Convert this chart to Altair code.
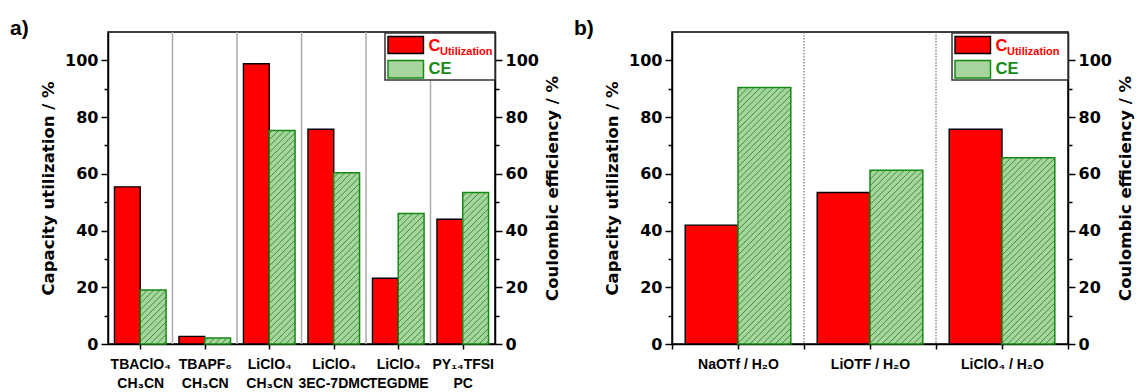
import json
import numpy as np
import pandas as pd
import altair as alt

FONT = "Liberation Sans"
AXFONT = "DejaVu Sans"
RED = "#ff0000"
GREEN = "#148a14"
G_FILL = "#a6d69e"
HATCH = "#1d7d1d"

# ---- data: panel a ----
labels_a_top = ["TBAClO₄", "TBAPF₆", "LiClO₄", "LiClO₄", "LiClO₄", "PY₁₄TFSI"]
labels_a_bottom = ["CH₃CN", "CH₃CN", "CH₃CN", "3EC-7DMC", "TEGDME", "PC"]
cutil_a = [55.4, 2.7, 98.8, 75.7, 23.2, 44.0]
ce_a = [19.0, 2.1, 75.3, 60.4, 46.0, 53.4]

# ---- data: panel b ----
labels_b = ["NaOTf / H₂O", "LiOTF / H₂O", "LiClO₄ / H₂O"]
cutil_b = [41.9, 53.4, 75.7]
ce_b = [90.4, 61.3, 65.7]

y_ticks = [0, 10, 20, 30, 40, 50, 60, 70, 80, 90, 100]

Y_MAX = 110
H = 312
PXY = H / Y_MAX
BAR = 0.40
SP = 6.3
W_A = 387
W_B = 396


def hatch_rect(x0_px, yb_px, w_px, h_px, px_x):
    rows = []
    k = -w_px + SP / 2
    while k < h_px:
        xa = max(0.0, -k)
        xb = min(w_px, h_px - k)
        if xb - xa > 0.3:
            rows.append(dict(hx=(x0_px + xa) / px_x, hx2=(x0_px + xb) / px_x,
                             hy=(yb_px + xa + k) / PXY, hy2=(yb_px + xb + k) / PXY))
        k += SP
    return rows


def panel(tag, label_expr, cutil, ce, W, legend_w, xvals, sep_kw):
    n = len(cutil)
    px_x = W / n
    centers = [i + 0.5 for i in range(n)]
    bars = pd.DataFrame({
        "c": centers,
        "r0": [c - BAR for c in centers],
        "g1": [c + BAR for c in centers],
        "cutil": cutil,
        "ce": ce,
    })
    hrows = []
    for c, v in zip(centers, ce):
        hrows += hatch_rect(c * px_x, 0.0, BAR * px_x, v * PXY, px_x)

    L = W - legend_w
    sw_x0, sw_x1, sw_top, sw_bot = L + 3, L + 38.5, 28.5, 46.0
    hrows_leg = hatch_rect(sw_x0, H - sw_bot, sw_x1 - sw_x0, sw_bot - sw_top, px_x)

    xs = alt.Scale(domain=[0, n], nice=False, zero=False)
    ys = alt.Scale(domain=[0, Y_MAX], nice=False, zero=False)
    xaxis = alt.Axis(values=xvals, labelExpr=label_expr, title=None, grid=False,
                     tickSize=5, tickWidth=1.5, tickColor="black",
                     domainColor="black", domainWidth=1.5,
                     labelFont=FONT, labelFontSize=14, labelFontWeight="bold",
                     labelColor="black", labelAngle=0, labelPadding=8,
                     labelLineHeight=19, labelBaseline="top", labelOverlap=False,
                     labelBound=False)
    tick_cond = {"condition": {"test": "datum.value % 20 === 0", "value": 7}, "value": 4}
    lab_expr = "datum.value % 20 === 0 ? datum.label : ''"
    common_y = dict(values=y_ticks, labelExpr=lab_expr, tickSize=tick_cond, grid=False,
                    tickWidth=1.5, tickColor="black", domainColor="black", domainWidth=1.5,
                    labelFont=AXFONT, labelFontSize=16, labelFontWeight="bold", labelColor="black",
                    labelPadding=3, titleFont=AXFONT, titleFontSize=16.5, titleFontWeight="bold",
                    titleColor="black")
    left_axis = alt.Axis(orient="left", title="Capacity utilization / %", titlePadding=8, **common_y)
    right_axis = alt.Axis(orient="right", title="Coulombic efficiency / %", titleAngle=270,
                          titlePadding=22, **common_y)

    def X(f):
        return alt.X(f, type="quantitative", scale=xs, axis=xaxis)

    def Yn(f):
        return alt.Y(f, type="quantitative", scale=ys, axis=None)

    seps = pd.DataFrame({"s": list(range(1, n))})
    sep = alt.Chart(seps).mark_rule(**sep_kw).encode(
        x=X("s"), y=alt.value(0), y2=alt.value(H))
    red = alt.Chart(bars).mark_rect(fill=RED, stroke="black", strokeWidth=1.4).encode(
        x=X("r0"), x2="c", y=alt.Y("cutil:Q", scale=ys, axis=left_axis), y2=alt.datum(0))
    gfill = alt.Chart(bars).mark_rect(fill=G_FILL).encode(
        x=X("c"), x2="g1", y=Yn("ce"), y2=alt.datum(0))
    hatch = alt.Chart(pd.DataFrame(hrows + hrows_leg)).mark_rule(color=HATCH, strokeWidth=0.8).encode(
        x=X("hx"), x2="hx2", y=Yn("hy"), y2="hy2")
    gout = alt.Chart(bars).mark_rect(fillOpacity=0, stroke=GREEN, strokeWidth=1.5).encode(
        x=X("c"), x2="g1", y=alt.Y("ce:Q", scale=ys, axis=right_axis), y2=alt.datum(0))

    one = pd.DataFrame({"k": [0]})
    box = alt.Chart(one).mark_rect(fill="white", stroke="#333333", strokeWidth=1.5).encode(
        x=alt.value(L), x2=alt.value(W), y=alt.value(1), y2=alt.value(48))
    sw_red = alt.Chart(one).mark_rect(fill=RED, stroke="black", strokeWidth=1.4).encode(
        x=alt.value(L + 3), x2=alt.value(L + 38.5), y=alt.value(4.5), y2=alt.value(21.5))
    sw_g = alt.Chart(one).mark_rect(fill=G_FILL).encode(
        x=alt.value(sw_x0), x2=alt.value(sw_x1), y=alt.value(sw_top), y2=alt.value(sw_bot))
    sw_go = alt.Chart(one).mark_rect(fillOpacity=0, stroke=GREEN, strokeWidth=1.5).encode(
        x=alt.value(sw_x0), x2=alt.value(sw_x1), y=alt.value(sw_top), y2=alt.value(sw_bot))
    t_c = alt.Chart(one).mark_text(text="C", align="left", baseline="alphabetic", font=FONT,
                                   fontSize=16.5, fontWeight="bold", color=RED).encode(
        x=alt.value(L + 43.5), y=alt.value(19))
    t_u = alt.Chart(one).mark_text(text="Utilization", align="left", baseline="alphabetic", font=FONT,
                                   fontSize=11, fontWeight="bold", color=RED).encode(
        x=alt.value(L + 55), y=alt.value(23))
    t_ce = alt.Chart(one).mark_text(text="CE", align="left", baseline="alphabetic", font=FONT,
                                    fontSize=16.5, fontWeight="bold", color=GREEN).encode(
        x=alt.value(L + 43.5), y=alt.value(42.3))
    t_tag = alt.Chart(one).mark_text(text=tag, align="left", baseline="alphabetic", font=FONT,
                                     fontSize=21, fontWeight="bold", color="black").encode(
        x=alt.value(-98), y=alt.value(2.5))

    layers = [sep, red, gfill, hatch, gout, box, sw_red, sw_g, sw_go, t_c, t_u, t_ce, t_tag]
    return alt.layer(*layers).properties(width=W, height=H).resolve_scale(y="independent")


arr_a = json.dumps([[t, b] for t, b in zip(labels_a_top, labels_a_bottom)], ensure_ascii=False)
expr_a = f"{arr_a}[floor(datum.value)]"
arr_b = json.dumps(labels_b, ensure_ascii=False)
expr_b = f"datum.value % 1 == 0 ? '' : {arr_b}[floor(datum.value)]"

pa = panel("a)", expr_a, cutil_a, ce_a, W_A, 110, [i + 0.5 for i in range(len(cutil_a))],
           dict(color="#aaaaaa", strokeWidth=1.5))
pb = panel("b)", expr_b, cutil_b, ce_b, W_B, 116,
           [i * 0.5 for i in range(2 * len(cutil_b) + 1)],
           dict(color="#555555", strokeWidth=1, strokeDash=[1.5, 1.5]))

chart = alt.hconcat(pa, pb, spacing=11).properties(
    padding={"left": 1, "top": 8, "right": 0, "bottom": 0}
).configure_view(stroke="black", strokeWidth=1.5)

chart.save("out.html", embed_options={"renderer": "svg", "actions": False})
